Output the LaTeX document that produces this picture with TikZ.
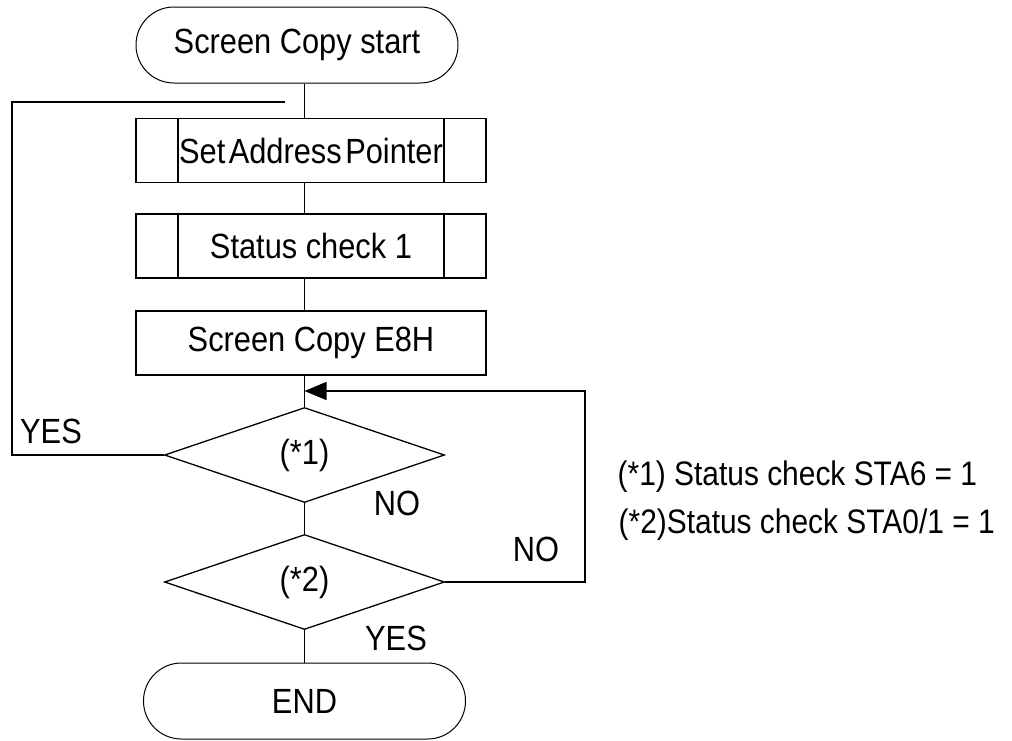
\documentclass[tikz,border=0pt]{standalone}
\usepackage{fontspec}
\setmainfont{Liberation Sans}[FakeStretch=0.88]
\usetikzlibrary{shapes.geometric,arrows.meta}

\begin{document}
\begin{tikzpicture}[x=1pt,y=-1pt,line width=1.3pt,
	font=\fontsize{35pt}{40pt}\selectfont,
	term/.style={draw,rounded corners=37.9pt,minimum width=322pt,minimum height=76pt,line width=1pt},
	proc/.style={draw,minimum width=350pt,minimum height=64pt,inner sep=0pt},
	subproc/.style={proc,path picture={
		\draw ([xshift=42pt]path picture bounding box.north west) -- ([xshift=42pt]path picture bounding box.south west);
		\draw ([xshift=-42pt]path picture bounding box.north east) -- ([xshift=-42pt]path picture bounding box.south east);}},
	decision/.style={draw,diamond,minimum width=280pt,minimum height=95pt,inner sep=0pt},
	lbl/.style={inner sep=0pt},
	note/.style={inner sep=0pt,anchor=west,font=\fontsize{34pt}{40pt}\selectfont}]
	\useasboundingbox (0,0) rectangle (1012,740);

	\node[term] (start) at (297,45) {Screen Copy start};
	\node[subproc] (sap) at (311,150.5) {Set\hspace{0.1em}Address\hspace{0.1em}Pointer};
	\node[subproc] (st1) at (311,246) {Status check 1};
	\node[proc] (copy) at (311,343) {Screen Copy E8H};
	\node[decision] (d1) at (304.5,455) {(*1)};
	\node[decision] (d2) at (304.5,582) {(*2)};
	\node[term] (end) at (304.5,701) {END};

	\coordinate (lt) at (12,102);
	\coordinate (gap) at (285,102);
	\coordinate (rt) at (585,391);
	\coordinate (merge) at (304.5,391);

	\draw (start.south -| d1) -- (sap.north -| d1);
	\draw (sap.south -| d1) -- (st1.north -| d1);
	\draw (st1.south -| d1) -- (copy.north -| d1);
	\draw (copy.south -| d1) -- (d1.north);
	\draw (d1.south) -- (d2.north);
	\draw (d2.south) -- (end.north);

	% YES of (*1): back to the top
	\draw (d1.west) -| (lt) -- (gap);
	% NO of (*2): back above (*1)
	\draw [-{Triangle[length=22pt,width=18pt]}] (d2.east) -| (rt) -- (merge);

	\node[lbl] (yes1) at (51,431) {YES};
	\node[lbl] (no1) at (397,503) {NO};
	\node[lbl] (no2) at (536,549) {NO};
	\node[lbl] (yes2) at (396,638) {YES};

	\node[note] (note1) at (617,477) {(*1) Status check STA6 = 1};
	\node[note] (note2) at (618,525) {(*2)Status check STA0/1 = 1};
\end{tikzpicture}
\end{document}
